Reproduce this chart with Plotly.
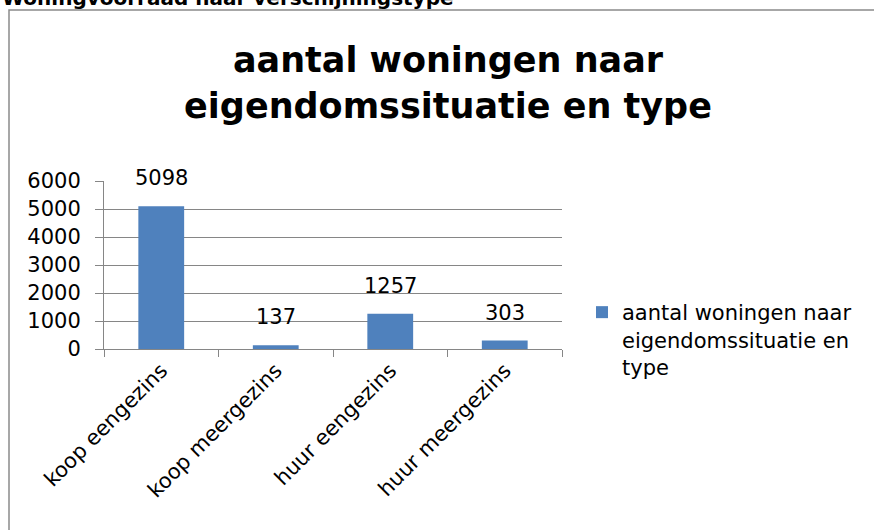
import plotly.graph_objects as go

categories = ["koop eengezins", "koop meergezins", "huur eengezins", "huur meergezins"]
values = [5098, 137, 1257, 303]
series_name = "aantal woningen naar<br>eigendomssituatie en<br>type"
chart_title = "aantal woningen naar<br>eigendomssituatie en type"
header_text = "Woningvoorraad naar verschijningstype"
y_ticks = [0, 1000, 2000, 3000, 4000, 5000, 6000]

W, H = 874, 530
L, R, T, B = 104, 562, 181, 349
FONT = "DejaVu Sans"
GRAY = "#868686"


def px_x(p):
    return (p - L) / (R - L)


def px_y(p):
    return (B - p) / (B - T)


fig = go.Figure()
fig.add_trace(go.Bar(
    x=categories, y=values, name=series_name,
    marker=dict(color="#4F81BD", line=dict(width=0)),
    width=0.4, showlegend=True,
))

# data labels
for c, v in zip(categories, values):
    fig.add_annotation(
        x=c, y=v, text=str(v), showarrow=False, yanchor="bottom", yshift=14,
        font=dict(family=FONT, size=21, color="black"),
    )

# header above the chart frame (cut off at the top edge, as in the original)
fig.add_annotation(
    xref="paper", yref="paper", x=px_x(0), y=px_y(12),
    xanchor="left", yanchor="bottom", showarrow=False, text=header_text,
    font=dict(family=FONT, size=20, color="black", weight="bold"),
)

# chart frame
fig.add_shape(
    type="rect", xref="paper", yref="paper",
    x0=px_x(9), x1=px_x(900), y0=px_y(10), y1=px_y(560),
    line=dict(color="#8a8a8a", width=1.5), layer="below",
)

fig.update_layout(
    width=W, height=H,
    margin=dict(l=L, r=W - R, t=T, b=H - B, pad=0),
    paper_bgcolor="white", plot_bgcolor="white",
    font=dict(family=FONT, size=21, color="black"),
    title=dict(
        text=chart_title, x=448 / W, xanchor="center",
        yref="container", y=1 - 72 / H, yanchor="top",
        font=dict(family=FONT, size=35, color="black", weight="bold"),
    ),
    bargap=0.6,
    legend=dict(
        x=px_x(582), xanchor="left", y=px_y(292), yanchor="top",
        font=dict(family=FONT, size=21, color="black"),
        bgcolor="rgba(0,0,0,0)", valign="top", itemwidth=30,
    ),
    xaxis=dict(
        type="category", showline=True, linecolor=GRAY, linewidth=1,
        ticks="outside", tickson="boundaries", ticklen=7, tickcolor=GRAY,
        tickangle=-45, showgrid=False,
        tickfont=dict(family=FONT, size=21, color="black"),
    ),
    yaxis=dict(
        range=[0, 6000], tickvals=y_ticks, showline=True, linecolor=GRAY, linewidth=1,
        ticks="outside", ticklen=8, tickcolor=GRAY, ticklabelstandoff=10,
        showgrid=True, gridcolor=GRAY, gridwidth=1, zeroline=False,
        tickfont=dict(family=FONT, size=21, color="black"),
    ),
)

fig.write_html("out.html", config={"displayModeBar": False},
               post_script="document.body.style.margin = '0';")
